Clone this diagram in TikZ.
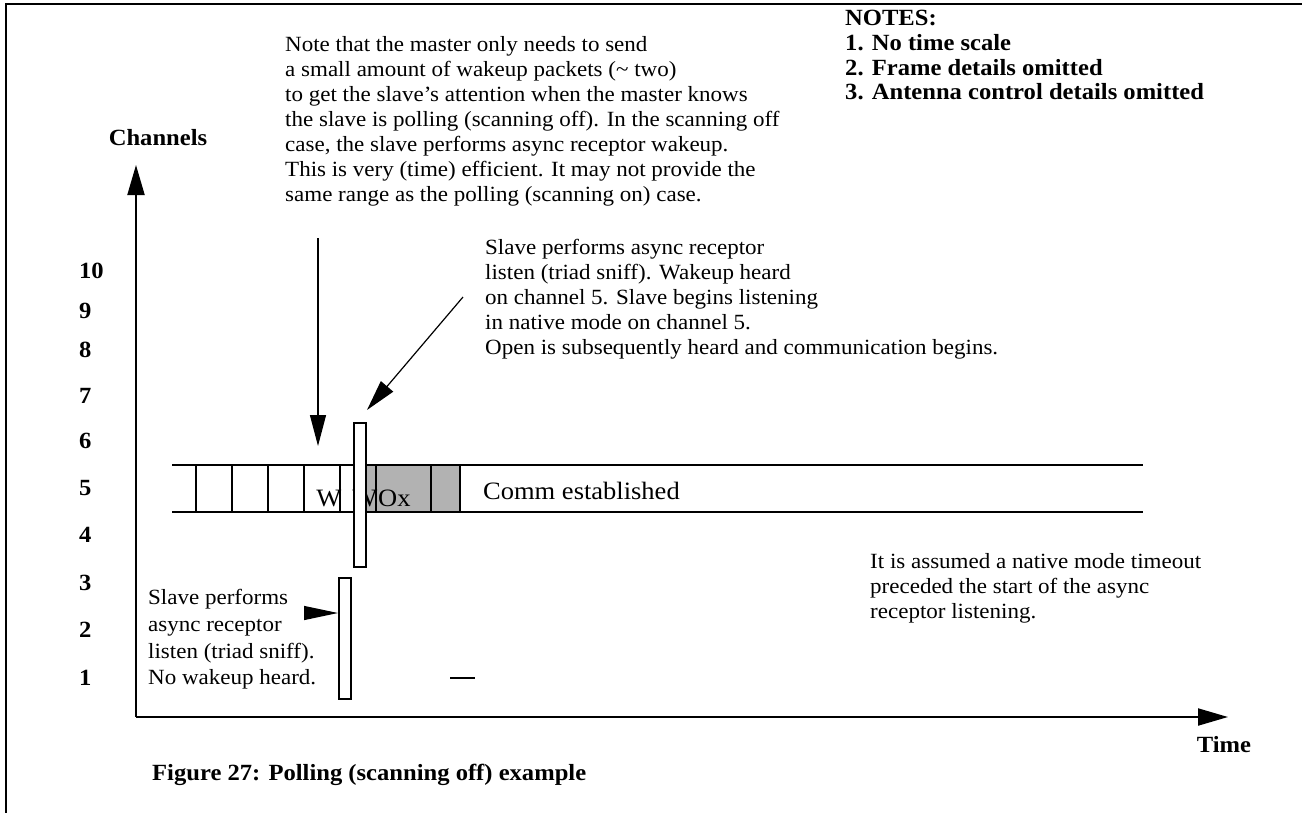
\documentclass[tikz,border=0pt]{standalone}
\usepackage{fontspec}
\setmainfont{Liberation Serif}[FakeStretch=1.06]
\usetikzlibrary{arrows.meta}
\begin{document}
\begin{tikzpicture}[x=1pt,y=-1pt,
  txt/.style={inner sep=0pt,anchor=north west,align=left,font=\fontsize{21.7}{25}\selectfont},
  bld/.style={inner sep=0pt,font=\bfseries\fontsize{23.2}{24.7}\selectfont},
  chan/.style={bld,anchor=west},
  bandtxt/.style={inner sep=0pt,font=\fontsize{25}{25}\selectfont},
  axis/.style={line width=2pt,-{Triangle[length=30pt,width=17pt]}},
  pointer/.style={line width=1.2pt,-{Triangle[length=31pt,width=16pt]}},
  band/.style={line width=2pt},
  divider/.style={line width=1.6pt},
  slot/.style={draw,line width=2pt,fill=white,inner sep=0pt}]
\useasboundingbox (0,0) rectangle (1302,812);
% outer frame (continues past the right and bottom edges)
\draw[line width=2.2pt] (6,830) -- (6,4) -- (1320,4);

% axes
\coordinate (origin) at (136,717);
\coordinate (ytip) at (136,165);
\coordinate (xtip) at (1228,717);
\draw[axis] (origin) -- (ytip);
\draw[axis] (origin) -- (xtip);
\node[bld] (chlabel) at (158,138) {Channels};
\node[bld] (timelabel) at (1224,745) {Time};

% channel numbers
\node[chan] (c10) at (79,271) {10};
\node[chan] (c9) at (79,311) {9};
\node[chan] (c8) at (79,350) {8};
\node[chan] (c7) at (79,396) {7};
\node[chan] (c6) at (79,441) {6};
\node[chan] (c5) at (79,488) {5};
\node[chan] (c4) at (79,535) {4};
\node[chan] (c3) at (79,583) {3};
\node[chan] (c2) at (79,630) {2};
\node[chan] (c1) at (79,678) {1};

% channel 5 time line
\fill[black!30] (360,465) rectangle (460,512);
\draw[band] (172,465) -- (1143,465);
\draw[band] (172,512) -- (1143,512);
\foreach \xx in {196,232,268,304,340,376,431,460}
  \draw[divider] (\xx,465) -- (\xx,512);
\node[bandtxt,anchor=base] (w1) at (329,506) {W};
\node[bandtxt,anchor=base] (w2) at (365,506) {W};
\node[bandtxt,anchor=base west] (ox) at (378,506) {Ox};
\node[bandtxt,anchor=base west] (comm) at (483,499) {Comm established};

% async receptor listen windows
\node[slot,minimum width=12pt,minimum height=144pt] (listen5) at (360,495) {};
\node[slot,minimum width=12pt,minimum height=121pt] (listen1) at (345,638.5) {};

% notes
\node[txt,font=\bfseries\fontsize{23.2}{24.8}\selectfont] (notes) at (845,10)
  {NOTES:\\1. No time scale\\2. Frame details omitted\\3. Antenna control details omitted};

\node[txt] (wakenote) at (285,36)
  {Note that the master only needs to send\\
   a small amount of wakeup packets (\textasciitilde{} two)\\
   to get the slave’s attention when the master knows\\
   the slave is polling (scanning off). In the scanning off\\
   case, the slave performs async receptor wakeup.\\
   This is very (time) efficient. It may not provide the\\
   same range as the polling (scanning on) case.};

\node[txt] (heardnote) at (485,239)
  {Slave performs async receptor\\
   listen (triad sniff). Wakeup heard\\
   on channel 5. Slave begins listening\\
   in native mode on channel 5.\\
   Open is subsequently heard and communication begins.};

\node[txt,font=\fontsize{21.7}{26.8}\selectfont] (missnote) at (148,589)
  {Slave performs\\async receptor\\listen (triad sniff).\\No wakeup heard.};

\node[txt] (timeoutnote) at (870,553)
  {It is assumed a native mode timeout\\
   preceded the start of the async\\
   receptor listening.};

% pointers
\coordinate (wakefrom) at (318,238);
\coordinate (wakeat) at (318,446);
\draw[pointer] (wakefrom) -- (wakeat);
\coordinate (heardfrom) at (463,297);
\coordinate (heardat) at (367,410);
\draw[pointer] (heardfrom) -- (heardat);
\coordinate (missfrom) at (305,613);
\draw[pointer,-{Triangle[length=34pt,width=14pt]}] (missfrom) -- (listen1.west |- missfrom);

% short mark on channel 1
\coordinate (tickA) at (450,678);
\coordinate (tickB) at (475,678);
\draw[line width=1.6pt] (tickA) -- (tickB);

% caption
\node[bld,anchor=base west] (caption) at (152,780) {Figure 27: Polling (scanning off) example};
\end{tikzpicture}
\end{document}
